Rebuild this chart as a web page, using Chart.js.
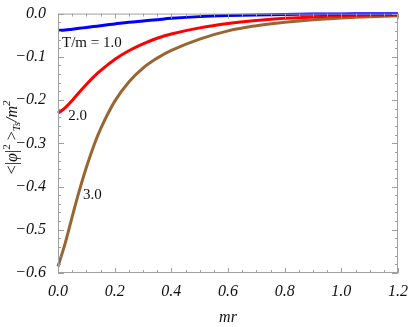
<!DOCTYPE html>
<html>
<head>
<meta charset="utf-8">
<script src="https://cdn.jsdelivr.net/npm/chart.js@4.4.1/dist/chart.umd.min.js"></script>
<style>
  body { margin: 0; background: #fff; }
  #chart { display: block; }
</style>
</head>
<body>
<canvas id="chart" width="409" height="327"></canvas>
<script>
// mr values shared by all three curves
const rValues = [0, 0.025, 0.05, 0.075, 0.1, 0.125, 0.15, 0.2, 0.25, 0.3, 0.35, 0.4, 0.5, 0.6, 0.7, 0.8, 0.9, 1.0, 1.1, 1.2];

// <|phi|^2>_Ts / m^2 for T/m = 1.0, 2.0, 3.0
const valuesT1 = [-0.039, -0.038, -0.036, -0.034, -0.032, -0.030, -0.028, -0.024, -0.020, -0.017, -0.014, -0.011, -0.007, -0.0045, -0.003, -0.002, -0.0012, -0.0007, -0.0004, -0.0002];
const valuesT2 = [-0.230, -0.218, -0.201, -0.182, -0.164, -0.147, -0.132, -0.106, -0.086, -0.070, -0.057, -0.047, -0.033, -0.023, -0.016, -0.011, -0.008, -0.005, -0.0035, -0.0025];
const valuesT3 = [-0.585, -0.532, -0.470, -0.410, -0.356, -0.308, -0.267, -0.203, -0.158, -0.126, -0.103, -0.085, -0.059, -0.040, -0.028, -0.020, -0.014, -0.010, -0.007, -0.005];

const xTicks = [0, 0.2, 0.4, 0.6, 0.8, 1.0, 1.2];
const yTicks = [0, -0.1, -0.2, -0.3, -0.4, -0.5, -0.6];

const curveLabels = [
    { text: 'T/m = 1.0', x: 0.014, y: -0.069 },
    { text: '2.0', x: 0.036, y: -0.236 },
    { text: '3.0', x: 0.088, y: -0.42 }
];

function toPoints(ys) {
    return rValues.map((r, i) => ({ x: r, y: ys[i] }));
}

const serif = "'Liberation Serif', 'DejaVu Serif', serif";

const framePlugin = {
    id: 'frame',
    afterDraw(chart) {
        const ctx = chart.ctx;
        const a = chart.chartArea;
        const xs = chart.scales.x;
        const ys = chart.scales.y;
        ctx.save();
        ctx.strokeStyle = '#a0a0a0';
        ctx.lineWidth = 1;
        ctx.strokeRect(a.left + 0.5, a.top + 0.5, a.right - a.left - 1, a.bottom - a.top - 1);
        ctx.beginPath();
        // x ticks, minor every 0.05
        for (let i = 0; i <= 24; i++) {
            const px = Math.round(xs.getPixelForValue(i * 0.05)) + 0.5;
            const len = i % 4 === 0 ? 5 : 3;
            ctx.moveTo(px, a.bottom); ctx.lineTo(px, a.bottom - len);
            ctx.moveTo(px, a.top); ctx.lineTo(px, a.top + len);
        }
        // y ticks, minor every 0.02
        for (let i = 0; i <= 30; i++) {
            const py = Math.round(ys.getPixelForValue(-i * 0.02)) + 0.5;
            const len = i % 5 === 0 ? 6 : 3;
            ctx.moveTo(a.left, py); ctx.lineTo(a.left + len, py);
            ctx.moveTo(a.right, py); ctx.lineTo(a.right - len, py);
        }
        ctx.stroke();

        // curve labels
        ctx.fillStyle = '#111';
        ctx.font = '15px ' + serif;
        ctx.textAlign = 'left';
        ctx.textBaseline = 'middle';
        curveLabels.forEach(l => {
            ctx.fillText(l.text, xs.getPixelForValue(l.x), ys.getPixelForValue(l.y));
        });

        // y axis title: <|φ|² >Ts/m²
        const big = '16px ' + serif;
        const bigIt = 'italic 16px ' + serif;
        const small = '11px ' + serif;
        const smallIt = 'italic 11px ' + serif;
        const parts = [
            { t: '<|', f: big, dy: 0 },
            { t: 'φ', f: bigIt, dy: 0 },
            { t: '|', f: big, dy: 0 },
            { t: '2', f: small, dy: -6 },
            { t: ' >', f: big, dy: 0 },
            { t: 'Ts', f: smallIt, dy: 4 },
            { t: '/', f: bigIt, dy: 0 },
            { t: 'm', f: bigIt, dy: 0 },
            { t: '2', f: smallIt, dy: -6 }
        ];
        let total = 0;
        parts.forEach(p => { ctx.font = p.f; p.w = ctx.measureText(p.t).width; total += p.w; });
        ctx.translate(13, (a.top + a.bottom) / 2 - 6);
        ctx.rotate(-Math.PI / 2);
        ctx.textAlign = 'left';
        ctx.textBaseline = 'middle';
        let cx = -total / 2;
        parts.forEach(p => {
            ctx.font = p.f;
            ctx.fillText(p.t, cx, p.dy);
            cx += p.w;
        });
        ctx.restore();
    }
};

new Chart(document.getElementById('chart'), {
    type: 'line',
    data: {
        datasets: [
            { data: toPoints(valuesT1), borderColor: '#0000ff' },
            { data: toPoints(valuesT2), borderColor: '#ff0000' },
            { data: toPoints(valuesT3), borderColor: '#996633' }
        ]
    },
    options: {
        responsive: false,
        animation: false,
        devicePixelRatio: 1,
        layout: { padding: { top: 12, right: 10, left: 0, bottom: 0 } },
        elements: {
            line: { borderWidth: 3, tension: 0.4, fill: false },
            point: { radius: 0 }
        },
        datasets: { line: { clip: 4 } },
        plugins: {
            legend: { display: false },
            tooltip: { enabled: false }
        },
        scales: {
            x: {
                type: 'linear',
                min: 0,
                max: 1.2,
                grid: { display: false },
                border: { display: false },
                afterFit: s => { s.height = 54; },
                afterBuildTicks: s => { s.ticks = xTicks.map(v => ({ value: v })); },
                ticks: {
                    padding: 1,
                    maxRotation: 0,
                    autoSkip: false,
                    color: '#111',
                    font: { family: serif, size: 16, style: 'italic' },
                    callback: v => v.toFixed(1)
                },
                title: {
                    display: true,
                    text: 'mr',
                    color: '#111',
                    font: { family: serif, size: 16, style: 'italic' },
                    padding: { top: 0, bottom: 0 }
                }
            },
            y: {
                type: 'linear',
                min: -0.6,
                max: 0,
                grid: { display: false },
                border: { display: false },
                afterFit: s => { s.width = 58; },
                afterBuildTicks: s => { s.ticks = yTicks.map(v => ({ value: v })); },
                ticks: {
                    padding: 4,
                    autoSkip: false,
                    color: '#111',
                    font: { family: serif, size: 16, style: 'italic' },
                    callback: v => Math.abs(v) < 1e-9 ? '0.0' : '\u2212' + Math.abs(v).toFixed(1)
                }
            }
        }
    },
    plugins: [framePlugin]
});
</script>
</body>
</html>
